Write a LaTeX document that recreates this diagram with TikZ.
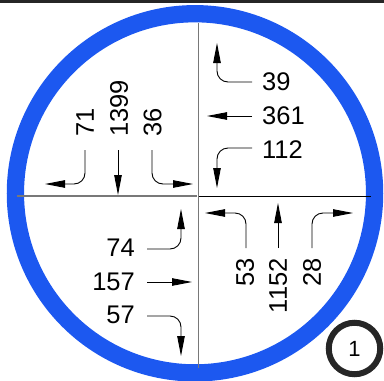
\documentclass[tikz,border=0pt]{standalone}
\usepackage{fontspec}
\setmainfont{Liberation Sans}
\usetikzlibrary{arrows.meta}
\definecolor{ringblue}{RGB}{28,88,240}
\definecolor{axisgray}{RGB}{120,120,120}
\tikzset{
  num/.style={inner sep=0pt, font=\fontsize{25.5}{30}\selectfont},
  rnum/.style={num, rotate=90},
  flow/.style={line width=0.9pt, rounded corners=11pt, -{Triangle[length=20pt,width=7.5pt]}},
}
\begin{document}
\begin{tikzpicture}[x=1pt,y=-1pt]
\useasboundingbox (0,0) rectangle (384,381);
\fill[black!85] (0,0) rectangle (384,2.6);
% ring
\draw[ringblue, line width=17.3pt] (195,193.3) circle[radius=179.6];
% axes
\draw[axisgray, line width=1.3pt] (198.3,23) -- (198.3,368);
\draw[axisgray, line width=1.5pt] (17,196) -- (197,196);
\draw[black, line width=0.9pt] (198.5,196.3) -- (371,196.3);
% top-right
\node[num, anchor=west] (t39) at (262,82) {39};
\node[num, anchor=west] (t361) at (262,116) {361};
\node[num, anchor=west] (t112) at (262,150) {112};
\coordinate (s39) at (252,82); \coordinate (c39) at (217,82); \coordinate (e39) at (217,43);
\coordinate (s361) at (252,116); \coordinate (e361) at (207,116);
\coordinate (s112) at (252,148); \coordinate (c112) at (217,148); \coordinate (e112) at (217,188);
\draw[flow] (s39) -- (c39) -- (e39);
\draw[flow] (s361) -- (e361);
\draw[flow] (s112) -- (c112) -- (e112);
% top-left
\node[rnum, anchor=west] (t71) at (85,137) {71};
\node[rnum, anchor=west] (t1399) at (119,137) {1399};
\node[rnum, anchor=west] (t36) at (152.5,137) {36};
\coordinate (s71) at (85,150); \coordinate (c71) at (85,184); \coordinate (e71) at (45,184);
\coordinate (s1399) at (118,150); \coordinate (e1399) at (118,195);
\coordinate (s36) at (152,150); \coordinate (c36) at (152,184); \coordinate (e36) at (193,184);
\draw[flow] (s71) -- (c71) -- (e71);
\draw[flow] (s1399) -- (e1399);
\draw[flow] (s36) -- (c36) -- (e36);
% bottom-left
\node[num, anchor=east] (t74) at (135,248) {74};
\node[num, anchor=east] (t157) at (135,282) {157};
\node[num, anchor=east] (t57) at (135,315) {57};
\coordinate (s74) at (147,249); \coordinate (c74) at (181,249); \coordinate (e74) at (181,209);
\coordinate (s157) at (147,282); \coordinate (e157) at (192,282);
\coordinate (s57) at (147,316); \coordinate (c57) at (181,316); \coordinate (e57) at (181,356);
\draw[flow] (s74) -- (c74) -- (e74);
\draw[flow] (s157) -- (e157);
\draw[flow] (s57) -- (c57) -- (e57);
% bottom-right
\node[rnum, anchor=east] (t53) at (245,258) {53};
\node[rnum, anchor=east] (t1152) at (278,258) {1152};
\node[rnum, anchor=east] (t28) at (312,258) {28};
\coordinate (s53) at (246,248); \coordinate (c53) at (246,213); \coordinate (e53) at (205,213);
\coordinate (s1152) at (278,248); \coordinate (e1152) at (278,203);
\coordinate (s28) at (312,248); \coordinate (c28) at (312,213); \coordinate (e28) at (353,213);
\draw[flow] (s53) -- (c53) -- (e53);
\draw[flow] (s1152) -- (e1152);
\draw[flow] (s28) -- (c28) -- (e28);
% badge
\node[circle, draw=black!85, line width=6pt, minimum size=51.5pt, inner sep=0pt,
      font=\fontsize{22}{26}\selectfont] (badge) at (354.5,348.5) {1};
\end{tikzpicture}
\end{document}
